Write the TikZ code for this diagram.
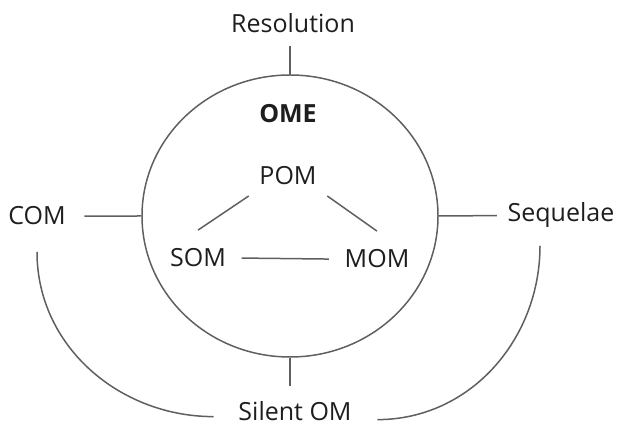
\documentclass[tikz,border=0pt]{standalone}
\usepackage{fontspec}
\setmainfont{Open Sans}
\usetikzlibrary{shapes.geometric}
\definecolor{linegray}{RGB}{95,95,95}
\definecolor{ink}{RGB}{30,30,30}
\tikzset{every path/.style={linegray, line width=1.5pt}, every node/.style={text=ink, font=\fontsize{25}{30}\selectfont, inner sep=0pt, anchor=base},
  bubble/.style={ellipse, draw, minimum width=296pt, minimum height=282pt, anchor=center},
  gap/.style={shorten >=#1}}

\begin{document}
\begin{tikzpicture}[x=1pt, y=1pt]
       \useasboundingbox (0,0) rectangle (617,425);
       \node[bubble] (ome) at (290,209) {};
       \node[font=\fontsize{25}{30}\selectfont\bfseries] (omehead) at (288,302) {OME};
       \node (resolution) at (293,392) {Resolution};
       \node (com)        at ( 37,200) {COM};
       \node (sequelae)   at (561,203) {Sequelae};
       \node (silent)     at (295,  5) {Silent OM};
       \node[inner sep=10pt] (pom) at (288,240) {POM};
       \node[inner xsep=15pt, inner ysep=18pt] (som) at (198,158) {SOM};
       \node[inner xsep=15pt, inner ysep=18pt] (mom) at (377,157) {MOM};
       \draw[gap=12pt] (ome.north) -- (ome.north |- resolution.south);
       \draw[gap=18pt] (ome.west) -- (com.east);
       \draw[gap=10pt] (ome.east) -- (sequelae.west);
       \draw[gap=14pt] (ome.south) -- (ome.south |- silent.north);
       \draw (pom.south west) -- (som.north);
       \draw (pom.south east) -- (mom.north);
       \draw (som.east) -- (mom.west);
       \draw ([yshift=-26pt]com.south) to[out=-90, in=180] ([xshift=-24pt, yshift=-6pt]silent.west);
       \draw ([shift={(-21pt,-17pt)}]sequelae.south) to[out=-90, in=0] ([xshift=25pt, yshift=-9pt]silent.east);
      \end{tikzpicture}
\end{document}
